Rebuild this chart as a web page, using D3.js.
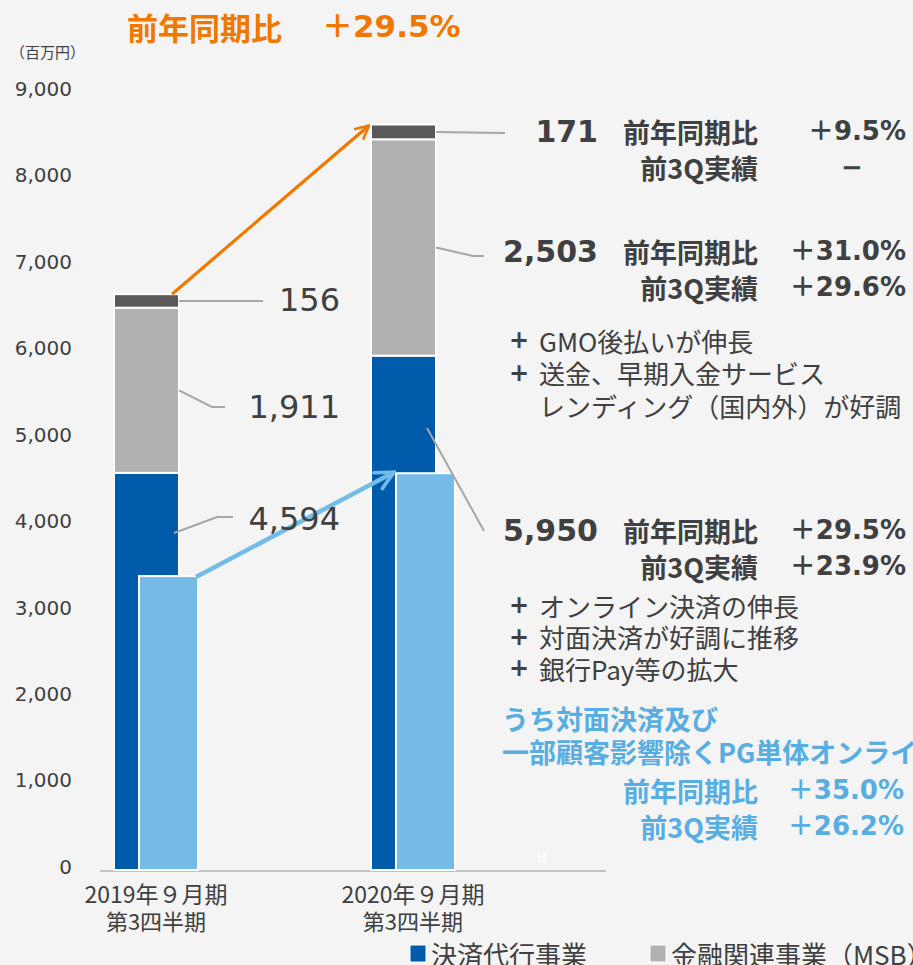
<!DOCTYPE html>
<html>
<head>
<meta charset="utf-8">
<script src="https://cdn.jsdelivr.net/npm/d3@7"></script>
<style>
  body { margin: 0; background: #f3f4f3; }
  svg { display: block; }
</style>
</head>
<body>
<div id="chart-area"></div>
<script>
// data
const categories = ["2019年９月期", "2020年９月期"];
const categorySub = ["第3四半期", "第3四半期"];
const payment = [4594, 5950];      // 決済代行事業
const finance = [1911, 2503];      // 金融関連事業
const other = [156, 171];          // その他
const pgOnline = [3400, 4590];     // 対面決済及び一部顧客影響除くPG単体オンライン
const yTicks = [0, 1000, 2000, 3000, 4000, 5000, 6000, 7000, 8000, 9000];
const legendNames = ["決済代行事業", "金融関連事業（MSB）"];

const titleText = ["前年同期比", "＋29.5%"];
const unitText = "（百万円）";
const yoyLabel = "前年同期比";
const q3Label = "前3Q実績";
const otherRates = ["＋9.5%", "−"];
const financeRates = ["＋31.0%", "＋29.6%"];
const paymentRates = ["＋29.5%", "＋23.9%"];
const pgRates = ["＋35.0%", "＋26.2%"];
const financeNotes = ["GMO後払いが伸長", "送金、早期入金サービス", "レンディング（国内外）が好調"];
const paymentNotes = ["オンライン決済の伸長", "対面決済が好調に推移", "銀行Pay等の拡大"];
const pgTitle = ["うち対面決済及び", "一部顧客影響除くPG単体オンライン決済"];

const FIGURE = { WIDTH: 913, HEIGHT: 965 };
const COLORS = {
    payment: "#005bab",
    finance: "#b1b1b1",
    other: "#5a5858",
    pg: "#74bbe7",
    orange: "#f07800",
    text: "#404040",
    blueText: "#58ade2",
    leader: "#a6a6a6"
};
const LATIN = "'DejaVu Sans', 'Noto Sans CJK JP', sans-serif";
const CJK = "'Noto Sans CJK JP', sans-serif";

let svg = d3.select("#chart-area")
    .append("svg")
        .attr("width", FIGURE.WIDTH)
        .attr("height", FIGURE.HEIGHT)
        .style("background", "#f3f4f3");

let x = d3.scaleBand()
    .domain(categories)
    .range([114, 436])
    .paddingInner(0.747);

let y = d3.scaleLinear()
    .domain([0, 9000])
    .range([870, 92]);

// y axis (labels only)
let yAxis = d3.axisLeft(y)
    .tickValues(yTicks)
    .tickFormat(d3.format(","))
    .tickSize(0)
    .tickPadding(0);

let yG = svg.append("g")
    .attr("transform", "translate(72, -3)")
    .call(yAxis);
yG.select(".domain").remove();
yG.selectAll("text")
    .attr("fill", COLORS.text)
    .style("font-family", LATIN)
    .style("font-size", "20px");

svg.append("text")
    .attr("x", 10).attr("y", 51)
    .attr("dominant-baseline", "central")
    .attr("fill", COLORS.text)
    .style("font-family", CJK)
    .style("font-size", "15px")
    .text(unitText);

// baseline
svg.append("line")
    .attr("x1", 100).attr("x2", 606)
    .attr("y1", y(0) + 1).attr("y2", y(0) + 1)
    .attr("stroke", "#c3c3c3")
    .attr("stroke-width", 2);

// stacked bars
const table = categories.map((c, i) => ({
    cat: c, payment: payment[i], finance: finance[i], other: other[i]
}));
const keys = ["payment", "finance", "other"];
const stack = d3.stack().keys(keys)(table);

svg.selectAll("g.layer")
    .data(stack)
    .enter()
    .append("g")
        .attr("class", "layer")
        .attr("fill", d => COLORS[d.key])
    .selectAll("rect")
    .data(d => d)
    .enter()
    .append("rect")
        .attr("x", d => x(d.data.cat))
        .attr("y", d => y(d[1]))
        .attr("width", x.bandwidth())
        .attr("height", d => y(d[0]) - y(d[1]))
        .attr("stroke", "#ffffff")
        .attr("stroke-width", 2);

// PG online bars (overlapping)
const pgOffset = 25, pgWidth = 59;
svg.selectAll("rect.pg")
    .data(pgOnline)
    .enter()
    .append("rect")
        .attr("class", "pg")
        .attr("x", (d, i) => x(categories[i]) + pgOffset)
        .attr("y", d => y(d))
        .attr("width", pgWidth)
        .attr("height", d => y(0) - y(d))
        .attr("fill", COLORS.pg)
        .attr("stroke", "#ffffff")
        .attr("stroke-width", 2);

// category labels
categories.forEach((c, i) => {
    const cx = x(c) + 42;
    svg.append("text")
        .attr("x", cx).attr("y", 893)
        .attr("text-anchor", "middle")
        .attr("dominant-baseline", "central")
        .attr("fill", COLORS.text)
        .style("font-family", CJK)
        .style("font-size", "23px")
        .text(c);
    svg.append("text")
        .attr("x", cx).attr("y", 920)
        .attr("text-anchor", "middle")
        .attr("dominant-baseline", "central")
        .attr("fill", COLORS.text)
        .style("font-family", CJK)
        .style("font-size", "22px")
        .text(categorySub[i]);
});

// small marks near the baseline
[538, 543].forEach(mx => {
    svg.append("rect")
        .attr("x", mx).attr("y", 853)
        .attr("width", 2.5).attr("height", 9)
        .attr("fill", "#ffffff");
});

// arrows
const defs = svg.append("defs");
function marker(id, color) {
    defs.append("marker")
        .attr("id", id)
        .attr("viewBox", "0 0 10 10")
        .attr("refX", 9).attr("refY", 5)
        .attr("markerWidth", 5).attr("markerHeight", 5)
        .attr("markerUnits", "strokeWidth")
        .attr("orient", "auto")
        .append("path")
            .attr("d", "M1,1 L9,5 L1,9")
            .attr("fill", "none")
            .attr("stroke", color)
            .attr("stroke-width", 1.6)
            .attr("stroke-linecap", "round");
}
marker("arrow-orange", COLORS.orange);
marker("arrow-blue", COLORS.pg);

const total = categories.map((c, i) => payment[i] + finance[i] + other[i]);
svg.append("line")
    .attr("x1", x(categories[0]) + 58).attr("y1", y(total[0]))
    .attr("x2", x(categories[1]) - 2).attr("y2", y(total[1]) + 1)
    .attr("stroke", COLORS.orange)
    .attr("stroke-width", 3.2)
    .attr("marker-end", "url(#arrow-orange)");

svg.append("line")
    .attr("x1", x(categories[0]) + pgOffset + pgWidth - 2).attr("y1", y(pgOnline[0]) + 1)
    .attr("x2", x(categories[1]) + pgOffset - 2).attr("y2", y(pgOnline[1]) - 1)
    .attr("stroke", COLORS.pg)
    .attr("stroke-width", 4.5)
    .attr("marker-end", "url(#arrow-blue)");

// leader lines
function leader(points) {
    svg.append("path")
        .attr("d", d3.line()(points))
        .attr("fill", "none")
        .attr("stroke", COLORS.leader)
        .attr("stroke-width", 2);
}
const x0 = x(categories[0]) + x.bandwidth(), x1 = x(categories[1]) + x.bandwidth();
const s0 = stack.map(l => l[0]), s1 = stack.map(l => l[1]);
const mid = d => y((d[0] + d[1]) / 2);

leader([[x0, mid(s0[2])], [263, mid(s0[2])]]);
leader([[x0, mid(s0[1])], [212, 407], [225, 407]]);
leader([[x0 - 5, 533], [217, 517], [233, 517]]);
leader([[x1, mid(s1[2])], [505, mid(s1[2]) + 1]]);
leader([[x1, mid(s1[1])], [473, 256], [484, 256]]);
leader([[x1 - 9, 428], [484, 531]]);

// text helper
function label(tx, ty, str, opt) {
    opt = opt || {};
    svg.append("text")
        .attr("x", tx).attr("y", ty)
        .attr("text-anchor", opt.anchor || "start")
        .attr("dominant-baseline", "central")
        .attr("fill", opt.color || COLORS.text)
        .style("font-family", opt.family || LATIN)
        .style("font-size", (opt.size || 20) + "px")
        .style("font-weight", opt.weight || 400)
        .text(str);
}
const fmt = d3.format(",");

// title
label(127, 26, titleText[0], { color: COLORS.orange, size: 31, weight: 700, family: CJK });
label(322, 26, titleText[1], { color: COLORS.orange, size: 31, weight: 700 });

// 2019 values
label(340, 300, fmt(other[0]), { anchor: "end", size: 32 });
label(340, 407, fmt(finance[0]), { anchor: "end", size: 32 });
label(340, 519, fmt(payment[0]), { anchor: "end", size: 32 });

// 2020 values and rates
const RX = 758, VX = 906;
function block(cy, value, rates, color) {
    if (value !== null) label(598, cy, fmt(value), { anchor: "end", size: 30, weight: 700 });
    label(RX, cy, yoyLabel, { anchor: "end", size: 27, weight: 700, family: CJK, color: color });
    label(RX, cy + 36, q3Label, { anchor: "end", size: 27, weight: 700, family: CJK, color: color });
    label(VX, cy, rates[0], { anchor: "end", size: 26, weight: 700, color: color });
    if (rates[1] === "−") {
        label(852, cy + 36, rates[1], { anchor: "middle", size: 26, weight: 700, color: color });
    } else {
        label(VX, cy + 36, rates[1], { anchor: "end", size: 26, weight: 700, color: color });
    }
}
block(131, other[1], otherRates);
block(251, finance[1], financeRates);
block(530, payment[1], paymentRates);

function notes(list, y0, step, plusFor) {
    list.forEach((t, i) => {
        if (plusFor[i]) label(509, y0 + i * step, "+", { size: 24, weight: 700, family: LATIN });
        label(539, y0 + i * step, t, { size: 26, family: CJK });
    });
}
notes(financeNotes, 340, 32.5, [true, true, false]);
notes(paymentNotes, 605, 31.5, [true, true, true]);

label(502, 718, pgTitle[0], { size: 27, weight: 700, family: CJK, color: COLORS.blueText });
label(502, 751, pgTitle[1], { size: 27, weight: 700, family: CJK, color: COLORS.blueText });
label(RX, 790, yoyLabel, { anchor: "end", size: 27, weight: 700, family: CJK, color: COLORS.blueText });
label(RX, 826, q3Label, { anchor: "end", size: 27, weight: 700, family: CJK, color: COLORS.blueText });
label(904, 790, pgRates[0], { anchor: "end", size: 26, weight: 700, color: COLORS.blueText });
label(904, 826, pgRates[1], { anchor: "end", size: 26, weight: 700, color: COLORS.blueText });

// legend
const legendX = [410, 650];
const legendColors = [COLORS.payment, COLORS.finance];
legendNames.forEach((n, i) => {
    svg.append("rect")
        .attr("x", legendX[i]).attr("y", 945)
        .attr("width", 16).attr("height", 17)
        .attr("fill", legendColors[i])
        .attr("stroke", "#ffffff")
        .attr("stroke-width", 1);
    label(legendX[i] + 21, 953, n, { size: 26, family: CJK });
});
</script>
</body>
</html>
